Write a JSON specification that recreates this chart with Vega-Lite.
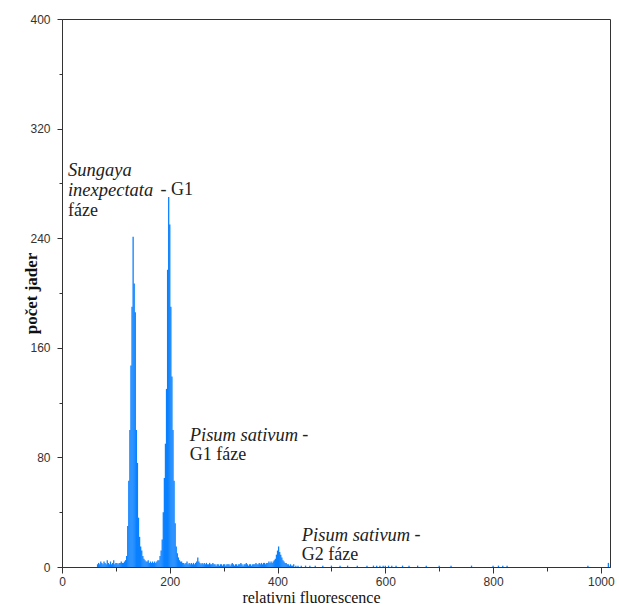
{
  "$schema": "https://vega.github.io/schema/vega-lite/v6.json",
  "width": 548,
  "height": 548,
  "autosize": "none",
  "padding": {"left": 62, "top": 19, "right": 9, "bottom": 37},
  "background": "white",
  "config": {
    "view": {"stroke": "#333333", "strokeWidth": 1},
    "axis": {
      "grid": false,
      "domainColor": "#333333",
      "tickColor": "#333333",
      "labelColor": "#333333",
      "labelFont": "Liberation Sans",
      "labelFontSize": 12,
      "titleFont": "Liberation Serif",
      "titleColor": "#111111"
    }
  },
  "datasets": {
    "hist": [
      {"ch": 66, "n": 2}, {"ch": 68, "n": 3}, {"ch": 70, "n": 2}, {"ch": 72, "n": 4}, {"ch": 74, "n": 3},
      {"ch": 76, "n": 2}, {"ch": 78, "n": 4}, {"ch": 80, "n": 3}, {"ch": 82, "n": 2}, {"ch": 84, "n": 5},
      {"ch": 86, "n": 3}, {"ch": 88, "n": 2}, {"ch": 90, "n": 4}, {"ch": 92, "n": 2}, {"ch": 94, "n": 3},
      {"ch": 96, "n": 5}, {"ch": 98, "n": 2}, {"ch": 100, "n": 3}, {"ch": 102, "n": 3}, {"ch": 104, "n": 2},
      {"ch": 106, "n": 3}, {"ch": 108, "n": 3}, {"ch": 110, "n": 4}, {"ch": 112, "n": 3}, {"ch": 114, "n": 3},
      {"ch": 116, "n": 4}, {"ch": 118, "n": 5},
      {"ch": 120, "n": 8}, {"ch": 122, "n": 30}, {"ch": 124, "n": 63}, {"ch": 126, "n": 100}, {"ch": 128, "n": 147},
      {"ch": 130, "n": 190}, {"ch": 132, "n": 241}, {"ch": 134, "n": 207}, {"ch": 136, "n": 186}, {"ch": 138, "n": 100},
      {"ch": 140, "n": 76}, {"ch": 142, "n": 36}, {"ch": 144, "n": 22}, {"ch": 146, "n": 15}, {"ch": 148, "n": 12},
      {"ch": 150, "n": 8}, {"ch": 152, "n": 6}, {"ch": 154, "n": 5}, {"ch": 156, "n": 4},
      {"ch": 158, "n": 4}, {"ch": 160, "n": 5}, {"ch": 162, "n": 3}, {"ch": 164, "n": 4}, {"ch": 166, "n": 3},
      {"ch": 168, "n": 4}, {"ch": 170, "n": 3}, {"ch": 172, "n": 4}, {"ch": 174, "n": 3}, {"ch": 176, "n": 4},
      {"ch": 178, "n": 5},
      {"ch": 180, "n": 5}, {"ch": 182, "n": 8}, {"ch": 184, "n": 12}, {"ch": 186, "n": 20}, {"ch": 188, "n": 40},
      {"ch": 190, "n": 65}, {"ch": 192, "n": 90}, {"ch": 194, "n": 130}, {"ch": 196, "n": 217}, {"ch": 198, "n": 270},
      {"ch": 200, "n": 250}, {"ch": 202, "n": 190}, {"ch": 204, "n": 139}, {"ch": 206, "n": 100}, {"ch": 208, "n": 63},
      {"ch": 210, "n": 32}, {"ch": 212, "n": 15}, {"ch": 214, "n": 10}, {"ch": 216, "n": 7}, {"ch": 218, "n": 5},
      {"ch": 220, "n": 4},
      {"ch": 222, "n": 4}, {"ch": 224, "n": 3}, {"ch": 226, "n": 3}, {"ch": 228, "n": 2}, {"ch": 230, "n": 3},
      {"ch": 232, "n": 4}, {"ch": 234, "n": 2}, {"ch": 236, "n": 3}, {"ch": 238, "n": 2}, {"ch": 240, "n": 3},
      {"ch": 242, "n": 2}, {"ch": 244, "n": 3}, {"ch": 246, "n": 2}, {"ch": 248, "n": 3}, {"ch": 250, "n": 4},
      {"ch": 252, "n": 7}, {"ch": 254, "n": 4}, {"ch": 256, "n": 3}, {"ch": 258, "n": 2}, {"ch": 260, "n": 3},
      {"ch": 262, "n": 2}, {"ch": 264, "n": 3}, {"ch": 266, "n": 2}, {"ch": 268, "n": 3}, {"ch": 270, "n": 2},
      {"ch": 272, "n": 2}, {"ch": 274, "n": 3}, {"ch": 276, "n": 2}, {"ch": 278, "n": 2}, {"ch": 280, "n": 3},
      {"ch": 282, "n": 2}, {"ch": 284, "n": 2}, {"ch": 286, "n": 1}, {"ch": 288, "n": 2}, {"ch": 290, "n": 2},
      {"ch": 292, "n": 1}, {"ch": 294, "n": 2}, {"ch": 296, "n": 2}, {"ch": 298, "n": 1}, {"ch": 300, "n": 2},
      {"ch": 302, "n": 2}, {"ch": 304, "n": 1}, {"ch": 306, "n": 2}, {"ch": 308, "n": 2}, {"ch": 310, "n": 2},
      {"ch": 312, "n": 1}, {"ch": 314, "n": 2}, {"ch": 316, "n": 3}, {"ch": 318, "n": 2}, {"ch": 320, "n": 1},
      {"ch": 322, "n": 2}, {"ch": 324, "n": 2}, {"ch": 326, "n": 1}, {"ch": 328, "n": 2}, {"ch": 330, "n": 2},
      {"ch": 332, "n": 3}, {"ch": 334, "n": 2}, {"ch": 336, "n": 1}, {"ch": 338, "n": 2}, {"ch": 340, "n": 2},
      {"ch": 342, "n": 3}, {"ch": 344, "n": 2}, {"ch": 346, "n": 1}, {"ch": 348, "n": 2}, {"ch": 350, "n": 2},
      {"ch": 352, "n": 1}, {"ch": 354, "n": 2}, {"ch": 356, "n": 2}, {"ch": 358, "n": 2}, {"ch": 360, "n": 3},
      {"ch": 362, "n": 2}, {"ch": 364, "n": 2}, {"ch": 366, "n": 3}, {"ch": 368, "n": 2}, {"ch": 370, "n": 3},
      {"ch": 372, "n": 2}, {"ch": 374, "n": 3}, {"ch": 376, "n": 3}, {"ch": 378, "n": 2}, {"ch": 380, "n": 3},
      {"ch": 382, "n": 3}, {"ch": 384, "n": 4}, {"ch": 386, "n": 3}, {"ch": 388, "n": 4},
      {"ch": 390, "n": 3}, {"ch": 392, "n": 4}, {"ch": 394, "n": 5}, {"ch": 396, "n": 6}, {"ch": 398, "n": 9},
      {"ch": 400, "n": 12}, {"ch": 402, "n": 15}, {"ch": 404, "n": 11}, {"ch": 406, "n": 9}, {"ch": 408, "n": 7},
      {"ch": 410, "n": 5}, {"ch": 412, "n": 4}, {"ch": 414, "n": 3}, {"ch": 416, "n": 3}, {"ch": 418, "n": 2},
      {"ch": 420, "n": 2}, {"ch": 422, "n": 1}, {"ch": 424, "n": 2}, {"ch": 426, "n": 1}, {"ch": 428, "n": 1},
      {"ch": 430, "n": 2}, {"ch": 434, "n": 1}, {"ch": 438, "n": 1}, {"ch": 444, "n": 1}, {"ch": 452, "n": 1},
      {"ch": 460, "n": 1}, {"ch": 470, "n": 1}, {"ch": 484, "n": 1}, {"ch": 500, "n": 1}, {"ch": 516, "n": 1},
      {"ch": 530, "n": 1}, {"ch": 548, "n": 1}, {"ch": 566, "n": 1}, {"ch": 578, "n": 1}, {"ch": 584, "n": 1},
      {"ch": 590, "n": 1}, {"ch": 596, "n": 1}, {"ch": 600, "n": 1}, {"ch": 606, "n": 1}, {"ch": 612, "n": 1},
      {"ch": 620, "n": 1}, {"ch": 632, "n": 1}, {"ch": 644, "n": 1}, {"ch": 660, "n": 1}, {"ch": 676, "n": 1},
      {"ch": 700, "n": 1}, {"ch": 722, "n": 1}, {"ch": 760, "n": 1}, {"ch": 800, "n": 1}, {"ch": 810, "n": 1},
      {"ch": 818, "n": 1}, {"ch": 826, "n": 1}, {"ch": 976, "n": 1}, {"ch": 1014, "n": 3}
    ],
    "italic": [
      {"x": 11, "y": 290, "t": "Sungaya"},
      {"x": 11, "y": 275, "t": "inexpectata"},
      {"x": 237, "y": 96, "t": "Pisum sativum"},
      {"x": 445, "y": 23, "t": "Pisum sativum"}
    ],
    "normal": [
      {"x": 183, "y": 275, "t": "- G1"},
      {"x": 11, "y": 260, "t": "fáze"},
      {"x": 446, "y": 96, "t": "-"},
      {"x": 654, "y": 23, "t": "-"},
      {"x": 237, "y": 82, "t": "G1 fáze"},
      {"x": 445, "y": 9, "t": "G2 fáze"}
    ]
  },
  "layer": [
    {
      "data": {"name": "hist"},
      "mark": {"type": "bar", "color": "#0a80ff", "size": 1.3},
      "encoding": {
        "x": {
          "field": "ch", "type": "quantitative",
          "scale": {"domain": [0, 1017], "nice": false, "zero": false, "padding": 0},
          "axis": {
            "values": [0, 100, 200, 300, 400, 500, 600, 700, 800, 900, 1000],
            "format": "d",
            "labelExpr": "datum.value % 200 === 0 ? datum.label : ''",
            "tickSize": {"condition": {"test": "datum.value % 200 === 0", "value": 6}, "value": 4},
            "labelFlush": false,
            "labelPadding": 3,
            "title": "relativni fluorescence",
            "titleFontSize": 16,
            "titleFontWeight": "normal",
            "titleX": 249,
            "titleY": 30,
            "titleBaseline": "middle",
            "titleAlign": "center"
          }
        },
        "y": {
          "field": "n", "type": "quantitative",
          "scale": {"domain": [0, 400], "nice": false, "padding": 0},
          "axis": {
            "values": [0, 40, 80, 120, 160, 200, 240, 280, 320, 360, 400],
            "labelExpr": "datum.value % 80 === 0 ? datum.label : ''",
            "tickSize": {"condition": {"test": "datum.value % 80 === 0", "value": 5}, "value": 3},
            "labelPadding": 7,
            "labelFlush": false,
            "title": "počet jader",
            "titleFontSize": 17,
            "titleFontWeight": "bold",
            "titleX": -22,
            "titleY": 274,
            "titleBaseline": "bottom",
            "titleAlign": "center",
            "titleAngle": -90
          }
        }
      }
    },
    {
      "data": {"name": "italic"},
      "mark": {"type": "text", "align": "left", "baseline": "middle", "font": "Liberation Serif", "fontSize": 18.5, "fontStyle": "italic", "color": "#222222"},
      "encoding": {
        "x": {"field": "x", "type": "quantitative"},
        "y": {"field": "y", "type": "quantitative"},
        "text": {"field": "t", "type": "nominal"}
      }
    },
    {
      "data": {"name": "normal"},
      "mark": {"type": "text", "align": "left", "baseline": "middle", "font": "Liberation Serif", "fontSize": 18, "color": "#222222"},
      "encoding": {
        "x": {"field": "x", "type": "quantitative"},
        "y": {"field": "y", "type": "quantitative"},
        "text": {"field": "t", "type": "nominal"}
      }
    }
  ]
}
